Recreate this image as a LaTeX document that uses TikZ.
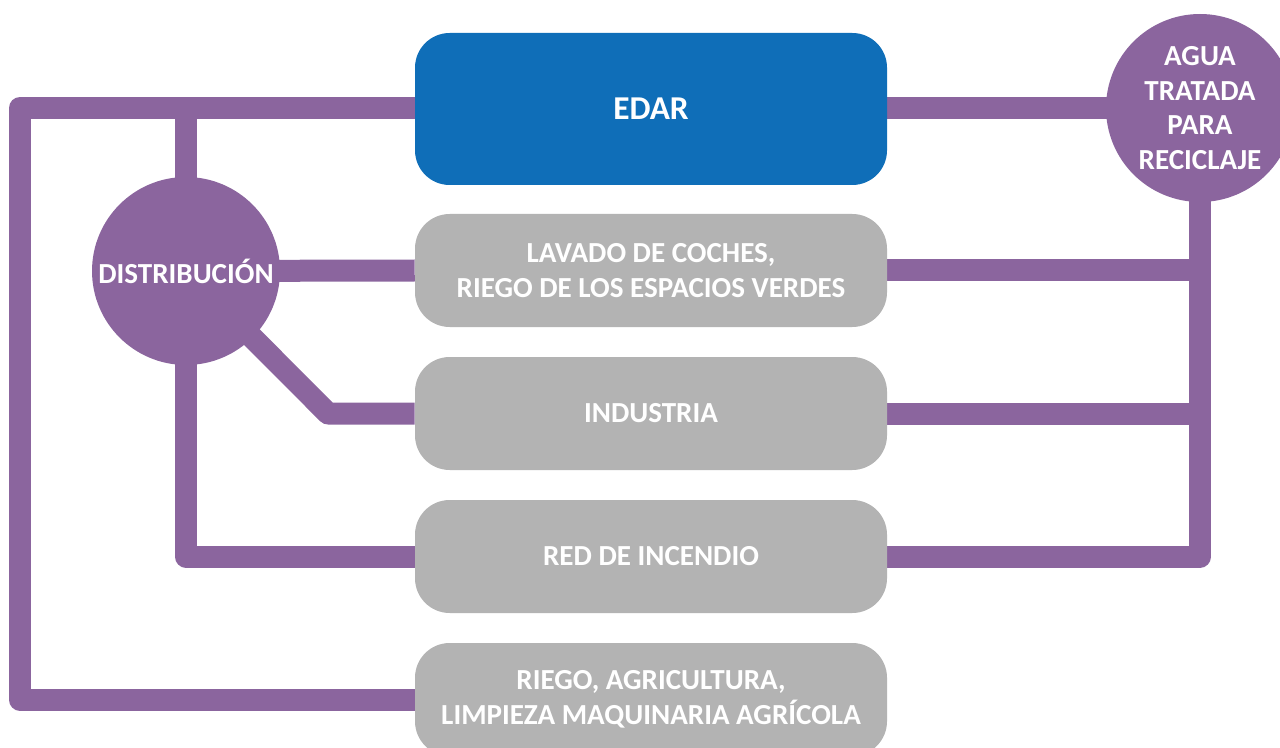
\documentclass[tikz,border=0pt]{standalone}
\usepackage{fontspec}
\setmainfont{Carlito}
\usetikzlibrary{positioning, calc, backgrounds}
\definecolor{pipepurple}{RGB}{139, 101, 158}
\definecolor{edarblue}{RGB}{15, 110, 184}
\definecolor{usegray}{RGB}{179, 179, 179}

\begin{document}
\begin{tikzpicture}[x=0.75pt, y=-0.75pt,
    pipe/.style={line width=16.5pt, pipepurple, line join=round},
    usebox/.style={rounded corners=26pt, fill=usegray, text=white, align=center,
        minimum width=354pt, minimum height=84.75pt, inner sep=0pt,
        font=\bfseries\fontsize{21.8}{26}\selectfont},
    hub/.style={circle, fill=pipepurple, text=white, align=center, inner sep=0pt,
        minimum size=141pt, font=\bfseries\fontsize{21.8}{25.8}\selectfont}]
\clip (0,0) rectangle (1280,748);

% Plant and uses
\node[usebox, fill=edarblue, minimum height=114pt, font=\bfseries\fontsize{25}{30}\selectfont] (edar) at (651,109) {EDAR};
\node[usebox] (lavado) at (651,270.5) {LAVADO DE COCHES,\\RIEGO DE LOS ESPACIOS VERDES};
\node[usebox] (industria) at (651,413.5) {INDUSTRIA};
\node[usebox] (incendio) at (651,556.5) {RED DE INCENDIO};
\node[usebox] (riego) at (651,699.5) {RIEGO, AGRICULTURA,\\LIMPIEZA MAQUINARIA AGRÍCOLA};

% Hubs
\node[hub] (dist) at (186,271) {DISTRIBUCIÓN};
\node[hub] (agua) at (1200,108) {AGUA\\TRATADA\\PARA\\RECICLAJE};

\coordinate (tl) at (20,108);
\coordinate (bl) at (20,699.5);
\coordinate (kink) at (328,413.5);

% Pipes
\begin{scope}[on background layer]
\draw[pipe] (edar.west |- tl) -- (tl) -- (bl) -- (riego.west);
\draw[pipe] (dist.center) -- (dist |- tl);
\draw[pipe] (dist.center) -- (lavado.west);
\draw[pipe] (dist.center) -- (kink) -- (industria.west);
\draw[pipe] (dist.center) -- (dist |- incendio.west) -- (incendio.west);
\draw[pipe] (edar.east |- tl) -- (agua.center);
\draw[pipe] (agua.center) -- (agua |- incendio.east) -- (incendio.east);
\draw[pipe] (lavado.east) -- (agua |- lavado.east);
\draw[pipe] (industria.east) -- (agua |- industria.east);
\end{scope}
\end{tikzpicture}
\end{document}
